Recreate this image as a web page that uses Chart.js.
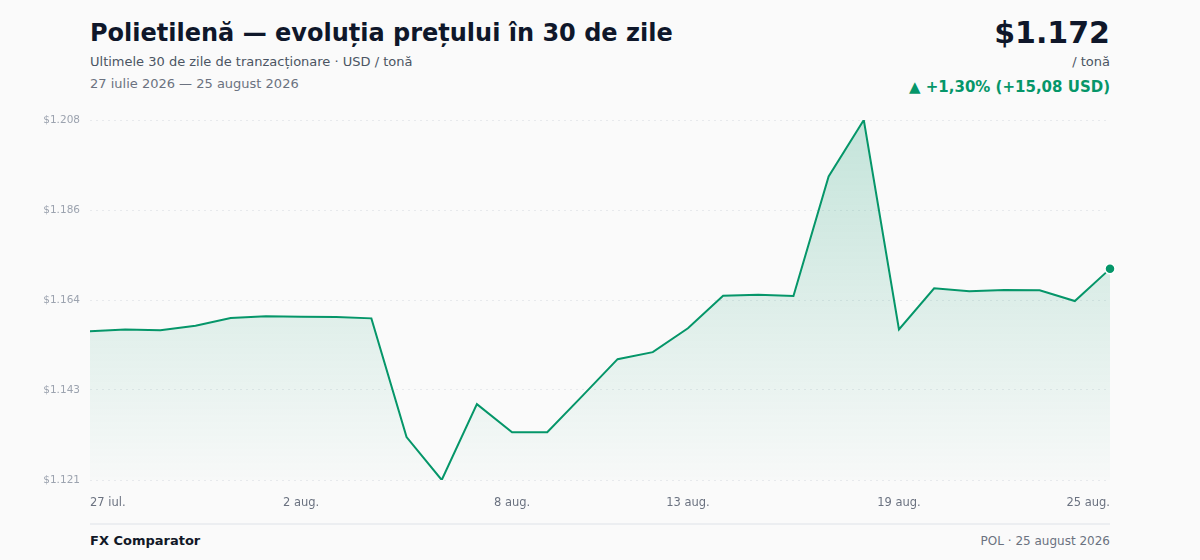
<!DOCTYPE html>
<html lang="ro">
<head>
<meta charset="utf-8">
<title>Polietilenă — evoluția prețului</title>
<script src="https://cdn.jsdelivr.net/npm/chart.js@4.4.1/dist/chart.umd.min.js"></script>
<style>
  html, body { margin: 0; padding: 0; }
  body {
    width: 1200px; height: 560px; overflow: hidden;
    background: #fafafa; position: relative;
    font-family: "DejaVu Sans", sans-serif; color: #111827;
  }
  .abs { position: absolute; white-space: nowrap; }
  #title { left: 90px; top: 19px; font-size: 24px; font-weight: bold; color: #0f172a; }
  #subtitle { left: 90px; top: 54px; font-size: 13px; color: #4b5563; }
  #range { left: 90px; top: 76px; font-size: 13px; color: #6b7280; }
  #price { right: 90px; top: 15px; font-size: 30px; font-weight: bold; color: #0f172a; }
  #unit { right: 90px; top: 54px; font-size: 13px; color: #4b5563; }
  #change { right: 90px; top: 78px; font-size: 15px; font-weight: bold; color: #059669; }
  #chartBox { position: absolute; left: 0; top: 100px; width: 1200px; height: 420px; }
  #divider { left: 90px; top: 523px; width: 1020px; height: 2px; background: #eceef1; }
  #brand { left: 90px; top: 533px; font-size: 13px; font-weight: bold; color: #111827; }
  #source { right: 90px; top: 534px; font-size: 12px; color: #6b7280; }
</style>
</head>
<body>
<div class="abs" id="title">Polietilenă — evoluția prețului în 30 de zile</div>
<div class="abs" id="subtitle">Ultimele 30 de zile de tranzacționare · USD / tonă</div>
<div class="abs" id="range">27 iulie 2026 — 25 august 2026</div>
<div class="abs" id="price">$1.172</div>
<div class="abs" id="unit">/ tonă</div>
<div class="abs" id="change">▲ +1,30% (+15,08 USD)</div>
<div id="chartBox"><canvas id="priceChart"></canvas></div>
<div class="abs" id="divider"></div>
<div class="abs" id="brand">FX Comparator</div>
<div class="abs" id="source">POL · 25 august 2026</div>

<script>
// one label per calendar day, 27 Jul – 25 Aug 2026
const days = [
  '27 iul.', '28 iul.', '29 iul.', '30 iul.', '31 iul.',
  '1 aug.', '2 aug.', '3 aug.', '4 aug.', '5 aug.', '6 aug.', '7 aug.',
  '8 aug.', '9 aug.', '10 aug.', '11 aug.', '12 aug.', '13 aug.', '14 aug.',
  '15 aug.', '16 aug.', '17 aug.', '18 aug.', '19 aug.', '20 aug.', '21 aug.',
  '22 aug.', '23 aug.', '24 aug.', '25 aug.'
];

// USD per tonne
const prices = [
  1156.9, 1157.3, 1157.1, 1158.2, 1160.1, 1160.5, 1160.4, 1160.3, 1160.0,
  1131.2, 1120.8, 1139.2, 1132.4, 1132.4, 1141.2, 1150.1, 1151.8, 1157.6,
  1165.5, 1165.7, 1165.4, 1194.4, 1208.1, 1157.3, 1167.3, 1166.6, 1166.9,
  1166.8, 1164.2, 1172.0
];

const shownDays = ['27 iul.', '2 aug.', '8 aug.', '13 aug.', '19 aug.', '25 aug.'];

const yMin = Math.min(...prices);
const yMax = Math.max(...prices);
const yTickCount = 5;

const green = '#059669';

function formatUsd(v) {
  const n = Math.round(v).toString();
  return '$' + n.replace(/\B(?=(\d{3})+(?!\d))/g, '.');
}

const ctx = document.getElementById('priceChart').getContext('2d');
const lastIndex = prices.length - 1;

new Chart(ctx, {
  type: 'line',
  data: {
    labels: days,
    datasets: [{
      data: prices,
      borderColor: green,
      borderWidth: 2,
      tension: 0,
      fill: 'start',
      backgroundColor: (c) => {
        const area = c.chart.chartArea;
        if (!area) return 'rgba(5,150,105,0.1)';
        const g = c.chart.ctx.createLinearGradient(0, area.top, 0, area.bottom);
        g.addColorStop(0, 'rgba(5,150,105,0.22)');
        g.addColorStop(1, 'rgba(5,150,105,0.01)');
        return g;
      },
      pointRadius: (c) => c.dataIndex === lastIndex ? 5 : 0,
      pointHoverRadius: 0,
      pointBackgroundColor: green,
      pointBorderColor: '#ffffff',
      pointBorderWidth: 1.5
    }]
  },
  options: {
    responsive: true,
    maintainAspectRatio: false,
    animation: false,
    layout: { padding: { left: 0, right: 90, top: 20, bottom: 0 } },
    plugins: {
      legend: { display: false },
      tooltip: { enabled: false }
    },
    scales: {
      x: {
        offset: false,
        grid: { display: false, drawTicks: false },
        border: { display: false },
        afterFit: (scale) => { scale.height = 40; },
        ticks: {
          autoSkip: false,
          maxRotation: 0,
          align: 'inner',
          padding: 16,
          color: '#6b7280',
          font: { family: 'DejaVu Sans', size: 11.5 },
          callback: function (value) {
            const lbl = this.getLabelForValue(value);
            return shownDays.includes(lbl) ? lbl : '';
          }
        }
      },
      y: {
        min: yMin,
        max: yMax,
        afterFit: (scale) => { scale.width = 90; },
        afterBuildTicks: (scale) => {
          const step = (yMax - yMin) / (yTickCount - 1);
          scale.ticks = [];
          for (let i = 0; i < yTickCount; i++) scale.ticks.push({ value: yMin + i * step });
        },
        grid: { color: '#e7e9ec', lineWidth: 1, drawTicks: false },
        border: { display: false, dash: [2, 4] },
        ticks: {
          padding: 10,
          color: '#9ca3af',
          font: { family: 'DejaVu Sans', size: 10.5 },
          callback: (v) => formatUsd(v)
        }
      }
    }
  }
});
</script>
</body>
</html>
